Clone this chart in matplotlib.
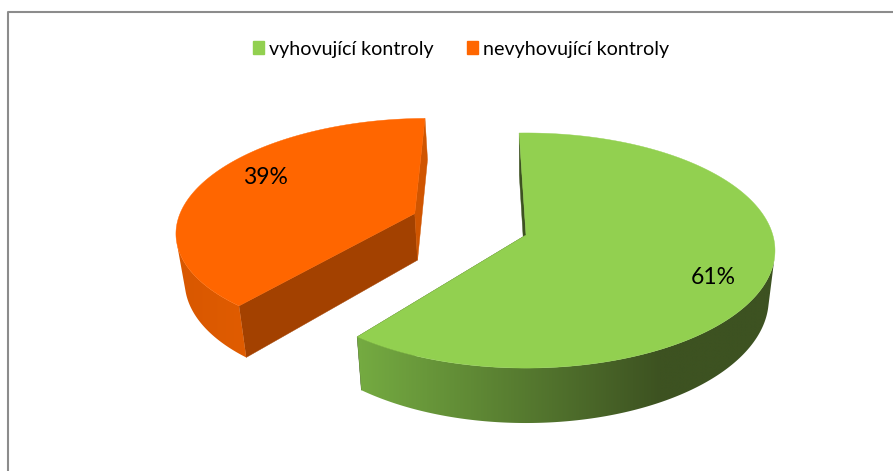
import numpy as np
import matplotlib
matplotlib.use('Agg')
import matplotlib.pyplot as plt
from matplotlib.colors import LinearSegmentedColormap
from matplotlib.patches import Patch, Polygon

categories = ['vyhovující kontroly', 'nevyhovující kontroly']
values = [61, 39]
top_colors = ['#92D050', '#FF6600']
rim_colors = [['#74AA41', '#3D5221'], ['#D85700', '#E05C00']]
rim_spans = [(361, 661), (177, 242)]
# colour of the flat cut at the first and at the last angle of a slice
cut_colors = [['#3D5221', '#3D5221'], ['#A34100', '#D05500']]
radii = [1.0, 0.975]
offsets = [(0, 0), (-0.462, -0.19)]
turns = [0, 1.2]

# camera, everything in image pixels
cx, cy = 526, 235
rx, ry, depth = 246.8, 115.5, 47.7
persp = 0.132
shrink = 0.975
first_angle = -1.8


def project(X, Z, lower=False):
    w = 1 - persp * Z
    if lower:
        return cx + shrink * rx * X / w, cy + (ry * Z + depth) / w
    return cx + rx * X / w, cy + ry * Z / w


def draw_slice(ax, start, end, off, r, top, rim, span, cut):
    t = np.radians(np.linspace(start, end, 721))
    X = off[0] + r * np.sin(t)
    Z = off[1] - r * np.cos(t)
    tx, ty = project(X, Z)
    bx, by = project(X, Z, lower=True)
    apex_t = project(*off)
    apex_b = project(*off, lower=True)

    # flat cut faces first
    for i, color in zip((0, -1), cut):
        face = [apex_t, (tx[i], ty[i]), (bx[i], by[i]), apex_b]
        ax.add_patch(Polygon(face, closed=True, fc=color, ec=color, lw=0.3))

    # outer wall, only the part facing the viewer, gradient along x
    front = np.gradient(tx) * (by - ty) - np.gradient(ty) * (bx - tx) < 0
    fx, fy, gx, gy = tx[front], ty[front], bx[front], by[front]
    wall = Polygon(list(zip(fx, fy)) + list(zip(gx[::-1], gy[::-1])), closed=True, fc='none', ec='none')
    ax.add_patch(wall)
    cmap = LinearSegmentedColormap.from_list('rim', rim)
    left, right = min(gx.min(), fx.min()), max(gx.max(), fx.max())
    xs = np.linspace(left, right, 512)
    shade = np.clip((xs - span[0]) / (span[1] - span[0]), 0, 1).reshape(1, -1)
    # zorder 1 like the patches, or the image lands under the cut faces
    img = ax.imshow(shade, cmap=cmap, vmin=0, vmax=1, aspect='auto', interpolation='bilinear',
                    extent=(left, right, gy.max() + 2, fy.min() - 2), zorder=1)
    img.set_clip_path(wall)

    # top face
    pts = [apex_t] + list(zip(tx, ty))
    ax.add_patch(Polygon(pts, closed=True, fc=top, ec=top, lw=0.3))


fig = plt.figure(figsize=(8.93, 4.71), dpi=100)
ax = fig.add_axes([0, 0, 1, 1])

ax.plot([7.5, 7.5, 893], [471, 12, 12], color='#8C8C8C', lw=1.5)

total = sum(values)
start = first_angle
for i, val in enumerate(values):
    end = start + 360 * val / total
    draw_slice(ax, start + turns[i], end + turns[i], offsets[i], radii[i], top_colors[i],
               rim_colors[i], rim_spans[i], cut_colors[i])
    start = end

ax.set_xlim(0, 893)
ax.set_ylim(471, 0)
ax.axis('off')

ax.text(713, 277, f'{values[0]}%', fontsize=16.5, family='Lato', ha='center', va='center', color='black')
ax.text(265, 177, f'{values[1]}%', fontsize=16.5, family='Lato', ha='center', va='center', color='black')

handles = [Patch(fc=c, ec=c) for c in top_colors]
ax.legend(handles, categories, loc='center', bbox_to_anchor=(461 / 893, 1 - 49 / 471), ncol=2,
          frameon=False, prop={'family': 'Lato', 'size': 14.1}, handlelength=0.6, handleheight=0.6,
          handletextpad=0.25, columnspacing=1.68, borderpad=0, borderaxespad=0)

fig.savefig('out.png', dpi=100)
